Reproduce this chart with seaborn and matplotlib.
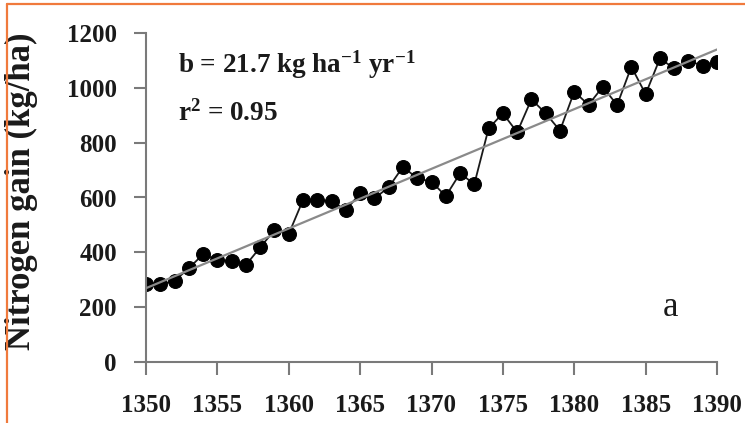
import numpy as np
import pandas as pd
import matplotlib
matplotlib.use('Agg')
import matplotlib.pyplot as plt
from matplotlib.lines import Line2D
import seaborn as sns

# values
years = list(range(1350, 1391))
gain = [283, 283, 296, 342, 393, 372, 369, 354, 418, 481,
        467, 591, 591, 587, 554, 615, 597, 637, 712, 670,
        658, 605, 688, 649, 852, 907, 838, 958, 907, 844,
        986, 938, 1004, 937, 1077, 977, 1107, 1071, 1099, 1080,
        1093]
xticks = [1350, 1355, 1360, 1365, 1370, 1375, 1380, 1385, 1390]
yticks = [0, 200, 400, 600, 800, 1000, 1200]

df = pd.DataFrame({'Year': years, 'Gain': gain})

sns.set_style('ticks')
plt.rcParams['font.family'] = ['Liberation Serif', 'DejaVu Serif']
plt.rcParams['font.weight'] = 'bold'
plt.rcParams['mathtext.fontset'] = 'custom'
plt.rcParams['mathtext.rm'] = 'Liberation Serif:bold'
plt.rcParams['mathtext.it'] = 'Liberation Serif:bold'
plt.rcParams['mathtext.bf'] = 'Liberation Serif:bold'

fig = plt.figure(figsize=(7.45, 4.23), dpi=100)
ax = fig.add_axes([146 / 745, 1 - 362 / 423, 571 / 745, 329 / 423])

axis_grey = '#7a7a7a'

# trend line
sns.regplot(data=df, x='Year', y='Gain', scatter=False, ci=None, ax=ax,
            line_kws={'color': '#8a8a8a', 'linewidth': 1.6, 'zorder': 3})
# observations
sns.lineplot(data=df, x='Year', y='Gain', ax=ax, color='#1a1a1a',
             linewidth=1.3, marker='o', markersize=10,
             markeredgecolor='black', markerfacecolor='black', zorder=2)

ax.set_xlim(1350, 1390)
ax.set_ylim(0, 1200)
ax.set_xticks(xticks)
ax.set_yticks(yticks)
ax.tick_params(axis='both', direction='out', length=9, width=1.5,
               color=axis_grey, labelsize=18, labelcolor='#1a1a1a')
ax.tick_params(axis='x', pad=14)
ax.tick_params(axis='y', pad=12)
for lab in ax.get_xticklabels() + ax.get_yticklabels():
    lab.set_fontweight('bold')

for side in ['top', 'right']:
    ax.spines[side].set_visible(False)
for side in ['left', 'bottom']:
    ax.spines[side].set_color(axis_grey)
    ax.spines[side].set_linewidth(1.5)

ax.set_xlabel('')
ax.set_ylabel('Nitrogen gain (kg/ha)', fontsize=25, fontweight='bold',
              color='#1a1a1a')
ax.yaxis.set_label_coords(-0.19, 0.518)

ax.text(0.056, 0.903, 'b = 21.7 kg ha$^{-1}$ yr$^{-1}$', transform=ax.transAxes,
        fontsize=19.5, fontweight='bold', va='center', ha='left', color='#1a1a1a')
ax.text(0.056, 0.757, 'r$^{2}$ = 0.95', transform=ax.transAxes,
        fontsize=19.5, fontweight='bold', va='center', ha='left', color='#1a1a1a')
ax.text(0.918, 0.167, 'a', transform=ax.transAxes, fontsize=25,
        fontweight='normal', va='center', ha='center', color='#1a1a1a')

# orange frame fragments (top and left edges)
orange = '#f07a3c'
fig.add_artist(Line2D([7 / 745, 1], [1 - 4 / 423, 1 - 4 / 423],
                      transform=fig.transFigure, color=orange, linewidth=1.6))
fig.add_artist(Line2D([7 / 745, 7 / 745], [0, 1 - 4 / 423],
                      transform=fig.transFigure, color=orange, linewidth=1.6))

fig.savefig('out.png', dpi=100)
